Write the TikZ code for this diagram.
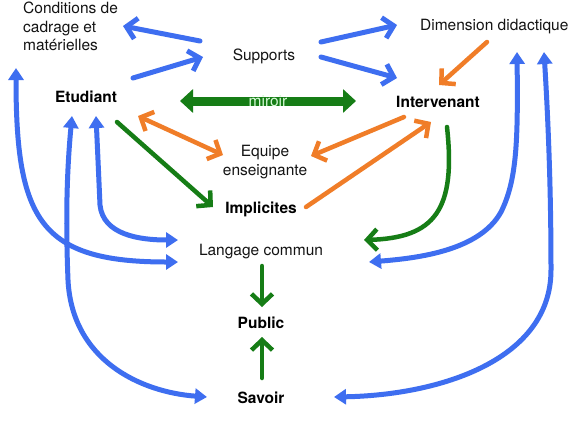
\documentclass[tikz,border=0pt]{standalone}
\usepackage{fontspec}
\setmainfont{TeX Gyre Heros}
\usetikzlibrary{arrows.meta}
\definecolor{cblue}{RGB}{62,110,240}
\definecolor{corange}{RGB}{240,125,40}
\definecolor{cgreen}{RGB}{22,125,22}
\definecolor{cmir}{RGB}{215,250,215}
\definecolor{ctext}{RGB}{20,20,20}
\begin{document}
\begin{tikzpicture}[x=1pt,y=-1pt,
 lbl/.style={font=\fontsize{15.5}{18.5}\selectfont,inner sep=0pt,text=ctext},
 blbl/.style={lbl,font=\fontsize{15.5}{18.5}\selectfont\bfseries,text=black},
 barb/.style={-{Straight Barb[length=10pt,width=21pt]}},
 barbs/.style={{Straight Barb[length=10pt,width=21pt]}-{Straight Barb[length=10pt,width=21pt]}},
 bluestr/.style={draw=cblue,line width=5pt,line cap=round,barb},
 bluecurve/.style={draw=cblue,line width=5pt,{Triangle[length=12pt,width=15pt]}-{Triangle[length=12pt,width=15pt]}},
 orangearr/.style={draw=corange,line width=4.5pt,line cap=round},
 greenarr/.style={draw=cgreen,line width=4.5pt,line cap=round},
 mirror/.style={draw=cgreen,line width=9pt,{Triangle[length=13pt,width=23pt]}-{Triangle[length=13pt,width=23pt]}},
]
\fill[white] (0,0) rectangle (568,424);
\useasboundingbox (0,0) rectangle (568,424);

\node[lbl,align=left,anchor=north west] (cond) at (23,1.8) {Conditions de\\cadrage et\\matérielles};
\node[lbl,anchor=base] (sup) at (264,60) {Supports};
\node[lbl,anchor=base west] (dim) at (420,30) {Dimension didactique};
\node[blbl,anchor=base] (etu) at (86,102) {Etudiant};
\node[blbl,anchor=base] (int) at (438,107) {Intervenant};
\node[lbl,align=center,anchor=north] (eq) at (265,145) {Equipe\\enseignante};
\node[blbl,anchor=base] (imp) at (261,213) {Implicites};
\node[lbl,anchor=base] (lang) at (261,255) {Langage commun};
\node[blbl,anchor=base] (pub) at (261,328) {Public};
\node[blbl,anchor=base] (sav) at (261,403) {Savoir};

% blue straight arrows
\draw[bluestr] ([shift={(-64,-19)}]sup.base) -- ([shift={(100,24.2)}]cond.north west);
\draw[bluestr] ([shift={(47,-24)}]etu.base) -- ([shift={(-61,-3)}]sup.base);
\draw[bluestr] ([shift={(57,-18)}]sup.base) -- ([shift={(-23,-5)}]dim.base west);
\draw[bluestr] ([shift={(57,-3)}]sup.base) -- ([shift={(-41,-29)}]int.base);

% orange arrows
\draw[orangearr,barb] ([shift={(67,12)}]dim.base west) -- ([shift={(1,-22)}]int.base);
\draw[orangearr,barbs] ([shift={(52,14)}]etu.base) -- ([shift={(-42,10)}]eq.north);
\draw[orangearr,barb] ([shift={(-34,10)}]int.base) -- ([shift={(46,11)}]eq.north);
\draw[orangearr,barb] ([shift={(45,-6)}]imp.base) -- ([shift={(-7,15)}]int.base);

% green arrows
\draw[mirror] ([shift={(94,-1)}]etu.base) -- node[lbl,text=cmir]{miroir} ([shift={(-82,-6)}]int.base);
\draw[greenarr,barb] ([shift={(31,20)}]etu.base) -- ([shift={(-48,-6)}]imp.base);
\draw[greenarr,barb] ([shift={(9,20)}]int.base) .. controls (456,210) and (435,238) .. ([shift={(103,-15)}]lang.base);
\draw[greenarr,barb] ([shift={(1,11)}]lang.base) -- ([shift={(1,-21)}]pub.base);
\draw[greenarr,barb] ([shift={(1,-25)}]sav.base) -- ([shift={(1,9)}]pub.base);

% blue curved arrows
\draw[bluecurve] ([shift={(-7,66.2)}]cond.north west) .. controls (16,220) and (40,262) .. ([shift={(-83,7)}]lang.base);
\draw[bluecurve] ([shift={(-14,14)}]etu.base) .. controls (66,180) and (66,230) .. (68,280) .. controls (72,360) and (140,392) .. ([shift={(-54,-6)}]sav.base);
\draw[bluecurve] ([shift={(10,14)}]etu.base) .. controls (98,160) .. (100,205) .. controls (103,235) and (140,240) .. ([shift={(-83,-15)}]lang.base);
\draw[bluecurve] ([shift={(97,22)}]dim.base west) .. controls (518,140) and (517,180) .. (501,212) .. controls (480,250) and (420,258) .. ([shift={(108,7)}]lang.base);
\draw[bluecurve] ([shift={(124,22)}]dim.base west) .. controls (550,150) and (551,220) .. (551,270) .. controls (551,360) and (440,395) .. ([shift={(73,-6)}]sav.base);
\end{tikzpicture}
\end{document}
